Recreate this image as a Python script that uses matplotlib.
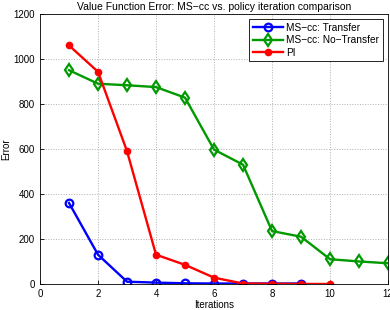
import matplotlib
matplotlib.use("Agg")
import matplotlib.pyplot as plt

plt.rcParams['font.family'] = ['Liberation Sans', 'DejaVu Sans']

# Data
transfer_x = [1, 2, 3, 4, 5, 6, 7, 8, 9]
transfer_err = [360, 130, 10, 6, 3, 2, 2, 2, 2]
notransfer_x = [1, 2, 3, 4, 5, 6, 7, 8, 9, 10, 11, 12]
notransfer_err = [950, 890, 883, 875, 828, 597, 530, 235, 210, 110, 100, 92]
pi_x = [1, 2, 3, 4, 5, 6, 7, 8, 9, 10]
pi_err = [1060, 943, 590, 130, 85, 28, 2, 1, 0, 0]

fig = plt.figure(figsize=(3.9, 3.1), dpi=100)
ax = fig.add_axes([0.1026, 0.084, 0.8924, 0.871])

ax.plot(transfer_x, transfer_err, color='#0000ff', linewidth=1.7, marker='o',
        markersize=5.5, markerfacecolor='none', markeredgewidth=1.6, label='MS\u2212cc: Transfer')
ax.plot(notransfer_x, notransfer_err, color='#009900', linewidth=1.7, marker='d',
        markersize=6, markerfacecolor='none', markeredgewidth=1.6, label='MS\u2212cc: No\u2212Transfer')
ax.plot(pi_x, pi_err, color='#ff0000', linewidth=1.7, marker='o',
        markersize=4.5, label='PI')

ax.set_xlim(0, 12)
ax.set_ylim(0, 1200)
ax.set_xticks(range(0, 13, 2))
ax.set_yticks(range(0, 1201, 200))
ax.tick_params(labelsize=7, direction='in', length=3, width=0.6)
ax.grid(True, linestyle=':', color='#b0b0b0', linewidth=0.7)
for s in ax.spines.values():
    s.set_linewidth(0.6)

ax.set_xlabel('Iterations', fontsize=7, labelpad=1)
ax.set_ylabel('Error', fontsize=7, labelpad=2)
ax.set_title('Value Function Error: MS\u2212cc vs. policy iteration comparison', fontsize=7.5, pad=3)

leg = ax.legend(loc='upper right', fontsize=7.3, fancybox=False, framealpha=1,
                edgecolor='black', borderaxespad=0.5, handlelength=3.0,
                labelspacing=0.25, borderpad=0.35, handletextpad=0.3)
leg.get_frame().set_linewidth(0.6)

fig.savefig('out.png', dpi=100)
